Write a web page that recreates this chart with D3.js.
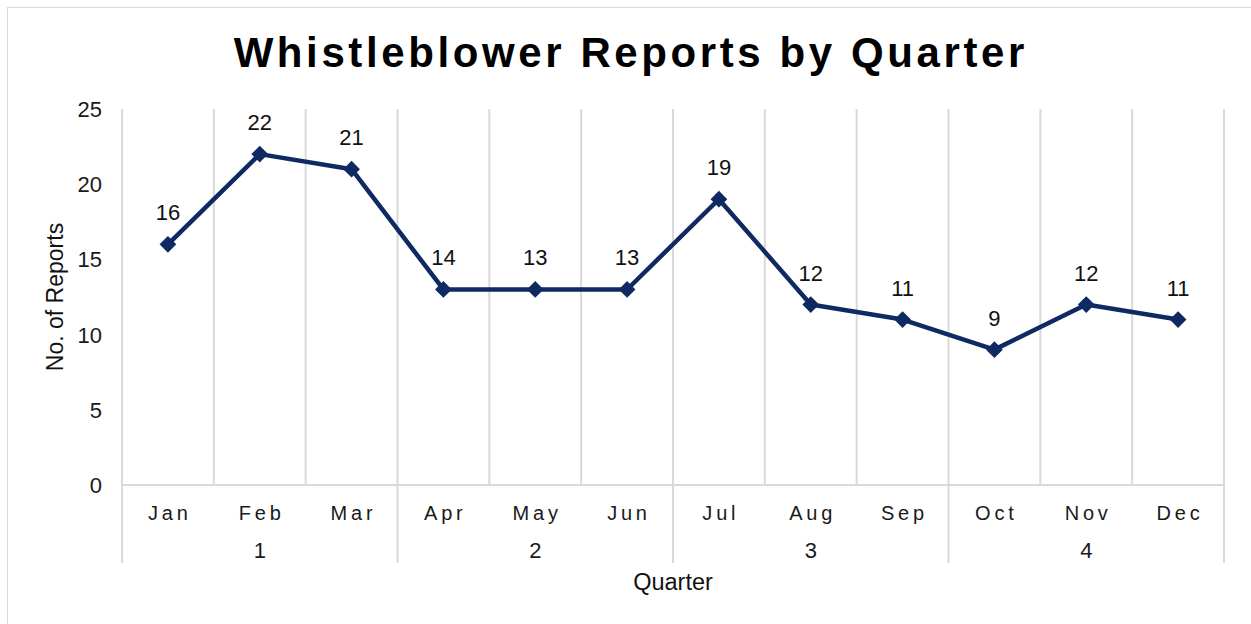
<!DOCTYPE html>
<html><head><meta charset="utf-8">
<script src="https://cdn.jsdelivr.net/npm/d3@7"></script>
<style>html,body{margin:0;padding:0;background:#fff;}svg{display:block;font-family:"Liberation Sans",Arial,sans-serif;}</style>
</head><body>
<svg id="chart" width="1251" height="624"></svg>
<script>
const months = ["Jan","Feb","Mar","Apr","May","Jun","Jul","Aug","Sep","Oct","Nov","Dec"];
const quarters = ["1","2","3","4"];
const values = [16,22,21,13,13,13,19,12,11,9,12,11];
const valueLabels = ["16","22","21","14","13","13","19","12","11","9","12","11"];
const yTicks = [0,5,10,15,20,25];
const title = "Whistleblower Reports by Quarter";
const yTitle = "No. of Reports";
const xTitle = "Quarter";

const svg = d3.select("#chart");
const W = 1251, H = 624;
const m = {left:122, right:1224, top:109, bottom:485};
const navy = "#0f2a63", grid = "#d9d9d9";

svg.append("rect").attr("x",7.5).attr("y",7.5).attr("width",W).attr("height",H)
  .attr("fill","#fff").attr("stroke","#d9d9d9").attr("stroke-width",1);

const x = d3.scaleBand().domain(months).range([m.left,m.right]).padding(0);
const y = d3.scaleLinear().domain([0,25]).range([m.bottom,m.top]);

// vertical gridlines at category boundaries
const bounds = months.map(d=>x(d)).concat([m.right]);
svg.append("g").selectAll("line").data(bounds).join("line")
  .attr("x1",d=>d).attr("x2",d=>d).attr("y1",m.top).attr("y2",m.bottom)
  .attr("stroke",grid).attr("stroke-width",2);

// x axis line
svg.append("line").attr("x1",m.left).attr("x2",m.right).attr("y1",m.bottom).attr("y2",m.bottom)
  .attr("stroke",grid).attr("stroke-width",2);

// quarter dividers
const qb = d3.range(0,13,3).map(i=> i<12 ? x(months[i]) : m.right);
svg.append("g").selectAll("line").data(qb).join("line")
  .attr("x1",d=>d).attr("x2",d=>d).attr("y1",m.bottom).attr("y2",563)
  .attr("stroke",grid).attr("stroke-width",2);

// month labels
svg.append("g").selectAll("text").data(months).join("text")
  .attr("x",d=>x(d)+x.bandwidth()/2+1.9).attr("y",520)
  .attr("text-anchor","middle").attr("font-size",20).attr("letter-spacing",3.8)
  .attr("fill","#1a1a1a").text(d=>d);

// quarter labels
svg.append("g").selectAll("text").data(quarters).join("text")
  .attr("x",(d,i)=>(qb[i]+qb[i+1])/2).attr("y",558)
  .attr("text-anchor","middle").attr("font-size",22).attr("fill","#1a1a1a").text(d=>d);

// y tick labels
svg.append("g").selectAll("text").data(yTicks).join("text")
  .attr("x",102).attr("y",d=>y(d)+8)
  .attr("text-anchor","end").attr("font-size",22).attr("fill","#1a1a1a").text(d=>d);

// axis titles
svg.append("text").attr("transform",`translate(63,${(m.top+m.bottom)/2}) rotate(-90)`)
  .attr("text-anchor","middle").attr("font-size",23).attr("fill","#111").text(yTitle);
svg.append("text").attr("x",(m.left+m.right)/2).attr("y",590)
  .attr("text-anchor","middle").attr("font-size",23.5).attr("fill","#111").text(xTitle);

// title
svg.append("text").attr("x",629+1.8).attr("y",67)
  .attr("text-anchor","middle").attr("font-size",42).attr("font-weight","bold")
  .attr("letter-spacing",3.6).attr("fill","#000").text(title);

// line
const cx = (d,i)=>x(months[i])+x.bandwidth()/2;
const line = d3.line().x((d,i)=>cx(d,i)).y(d=>y(d));
svg.append("path").datum(values).attr("d",line).attr("fill","none")
  .attr("stroke",navy).attr("stroke-width",4.5).attr("stroke-linejoin","round");

// diamonds
svg.append("g").selectAll("path").data(values).join("path")
  .attr("d",d3.symbol().type(d3.symbolSquare).size(140))
  .attr("transform",(d,i)=>`translate(${cx(d,i)},${y(d)}) rotate(45)`)
  .attr("fill",navy);

// data labels
svg.append("g").selectAll("text").data(values).join("text")
  .attr("x",(d,i)=>cx(d,i)).attr("y",d=>y(d)-24)
  .attr("text-anchor","middle").attr("font-size",22).attr("fill","#111")
  .text((d,i)=>valueLabels[i]);
</script>
</body></html>
